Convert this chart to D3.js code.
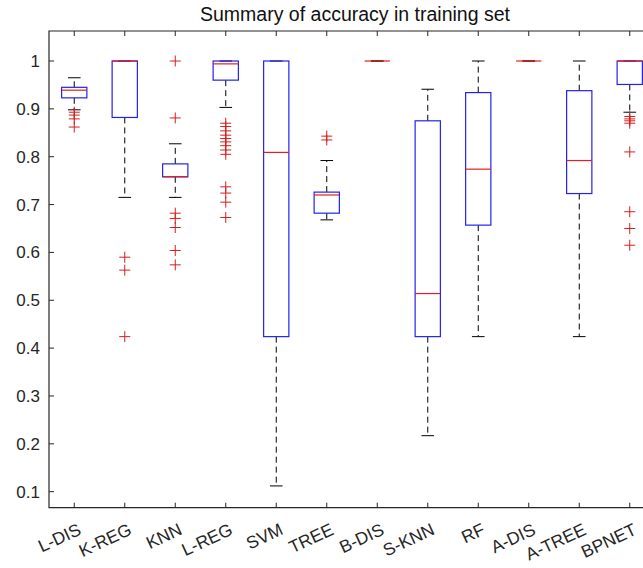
<!DOCTYPE html>
<html>
<head>
<meta charset="utf-8">
<script src="https://cdn.jsdelivr.net/npm/d3@7"></script>
<style>
  body { margin: 0; background: #fff; overflow: hidden; }
  svg { display: block; font-family: "Liberation Sans", Arial, sans-serif; }
</style>
</head>
<body>
<svg id="chart" width="643" height="568"></svg>
<script>
const categories = ['L-DIS', 'K-REG', 'KNN', 'L-REG', 'SVM', 'TREE', 'B-DIS', 'S-KNN', 'RF', 'A-DIS', 'A-TREE', 'BPNET'];
const q1         = [0.923, 0.882, 0.758, 0.960, 0.424, 0.682, 1, 0.424, 0.657, 1, 0.723, 0.951];
const medians    = [0.939, 1,     0.758, 0.994, 0.809, 0.720, 1, 0.514, 0.774, 1, 0.792, 1];
const q3         = [0.945, 1,     0.785, 1,     1,     0.726, 1, 0.875, 0.934, 1, 0.938, 1];
const whiskerLow  = [0.898, 0.715, 0.715, 0.903, 0.112, 0.668, 1, 0.217, 0.424, 1, 0.424, 0.893];
const whiskerHigh = [0.965, 1,     0.827, 1,     1,     0.792, 1, 0.941, 1,     1, 1,     1];
const outliers = [
  [0.893, 0.887, 0.879, 0.862],
  [0.590, 0.563, 0.424],
  [1.0, 0.881, 0.682, 0.671, 0.652, 0.604, 0.574],
  [0.870, 0.863, 0.854, 0.845, 0.838, 0.831, 0.823, 0.814, 0.805, 0.737, 0.724, 0.705, 0.673],
  [],
  [0.843, 0.835],
  [],
  [],
  [],
  [],
  [],
  [0.884, 0.879, 0.875, 0.870, 0.810, 0.685, 0.650, 0.615]
];
const yTicks = [0.1, 0.2, 0.3, 0.4, 0.5, 0.6, 0.7, 0.8, 0.9, 1];
const yTickLabels = ['0.1', '0.2', '0.3', '0.4', '0.5', '0.6', '0.7', '0.8', '0.9', '1'];
const title = 'Summary of accuracy in training set';

const svg = d3.select('#chart');
const margin = { top: 31, left: 49 };
const plotRight = 655;
const plotBottom = 507.7;
const axisColor = '#262626';

const rows = categories.map((c, i) => ({
  cat: c, q1: q1[i], med: medians[i], q3: q3[i],
  lo: whiskerLow[i], hi: whiskerHigh[i], out: outliers[i]
}));

const xScale = d3.scaleBand()
  .domain(categories)
  .range([margin.left, plotRight])
  .padding(0);
const cx = d => xScale(d) + xScale.bandwidth() / 2;
const boxW = xScale.bandwidth() * 0.5;
const capW = boxW * 0.5;

const yScale = d3.scaleLinear()
  .domain([0.0665, 1.0627])
  .range([plotBottom, margin.top]);

// title
svg.append('text')
  .attr('x', 355)
  .attr('y', 21)
  .attr('text-anchor', 'middle')
  .attr('font-size', 19.5)
  .attr('fill', '#111')
  .text(title);

const g = svg.append('g');

// whiskers
g.selectAll('.whisker').data(rows).enter().append('line')
  .attr('class', 'whisker')
  .attr('x1', d => cx(d.cat)).attr('x2', d => cx(d.cat))
  .attr('y1', d => yScale(d.q3)).attr('y2', d => yScale(d.hi))
  .attr('stroke', '#000').attr('stroke-width', 1)
  .attr('stroke-dasharray', '6,4');
g.selectAll('.whisker-lo').data(rows).enter().append('line')
  .attr('class', 'whisker-lo')
  .attr('x1', d => cx(d.cat)).attr('x2', d => cx(d.cat))
  .attr('y1', d => yScale(d.q1)).attr('y2', d => yScale(d.lo))
  .attr('stroke', '#000').attr('stroke-width', 1)
  .attr('stroke-dasharray', '6,4');

// caps
['hi', 'lo'].forEach(k => {
  g.selectAll('.cap-' + k).data(rows).enter().append('line')
    .attr('class', 'cap-' + k)
    .attr('x1', d => cx(d.cat) - capW / 2).attr('x2', d => cx(d.cat) + capW / 2)
    .attr('y1', d => yScale(d[k])).attr('y2', d => yScale(d[k]))
    .attr('stroke', '#000').attr('stroke-width', 1);
});

// boxes
g.selectAll('.box').data(rows).enter().append('rect')
  .attr('class', 'box')
  .attr('x', d => cx(d.cat) - boxW / 2)
  .attr('width', boxW)
  .attr('y', d => yScale(d.q3))
  .attr('height', d => yScale(d.q1) - yScale(d.q3))
  .attr('fill', 'none')
  .attr('stroke', '#2222ee')
  .attr('stroke-width', 1.2);

// medians
g.selectAll('.median').data(rows).enter().append('line')
  .attr('class', 'median')
  .attr('x1', d => cx(d.cat) - boxW / 2).attr('x2', d => cx(d.cat) + boxW / 2)
  .attr('y1', d => yScale(d.med)).attr('y2', d => yScale(d.med))
  .attr('stroke', '#e81c1c').attr('stroke-width', 1.2);

// outliers
const outPts = rows.flatMap(d => d.out.map(v => ({ cat: d.cat, v })));
g.selectAll('.outlier').data(outPts).enter().append('path')
  .attr('class', 'outlier')
  .attr('transform', d => `translate(${cx(d.cat)},${yScale(d.v)})`)
  .attr('d', 'M-5.5,0H5.5M0,-5.5V5.5')
  .attr('stroke', '#d61e1e').attr('stroke-width', 1)
  .attr('fill', 'none');

// axes box
const axes = svg.append('g');
axes.append('path')
  .attr('d', `M${plotRight},${margin.top}H${margin.left}V${plotBottom}H${plotRight}`)
  .attr('fill', 'none').attr('stroke', axisColor).attr('stroke-width', 1.2);

// x ticks top & bottom (inward)
axes.selectAll('.xt-b').data(categories).enter().append('line')
  .attr('x1', d => cx(d)).attr('x2', d => cx(d))
  .attr('y1', plotBottom).attr('y2', plotBottom - 5)
  .attr('stroke', axisColor);
axes.selectAll('.xt-t').data(categories).enter().append('line')
  .attr('x1', d => cx(d)).attr('x2', d => cx(d))
  .attr('y1', margin.top).attr('y2', margin.top + 5)
  .attr('stroke', axisColor);

// y ticks
axes.selectAll('.yt').data(yTicks).enter().append('line')
  .attr('x1', margin.left).attr('x2', margin.left + 5)
  .attr('y1', d => yScale(d)).attr('y2', d => yScale(d))
  .attr('stroke', axisColor);
axes.selectAll('.ytl').data(yTicks).enter().append('text')
  .attr('x', margin.left - 9)
  .attr('y', d => yScale(d))
  .attr('dy', '0.35em')
  .attr('text-anchor', 'end')
  .attr('font-size', 17)
  .attr('fill', axisColor)
  .text((d, i) => yTickLabels[i]);

// x labels, rotated
axes.selectAll('.xtl').data(categories).enter().append('text')
  .attr('transform', d => `translate(${cx(d) + 8},${plotBottom + 26}) rotate(-25)`)
  .attr('text-anchor', 'end')
  .attr('font-size', 17.5)
  .attr('fill', axisColor)
  .text(d => d);
</script>
</body>
</html>
